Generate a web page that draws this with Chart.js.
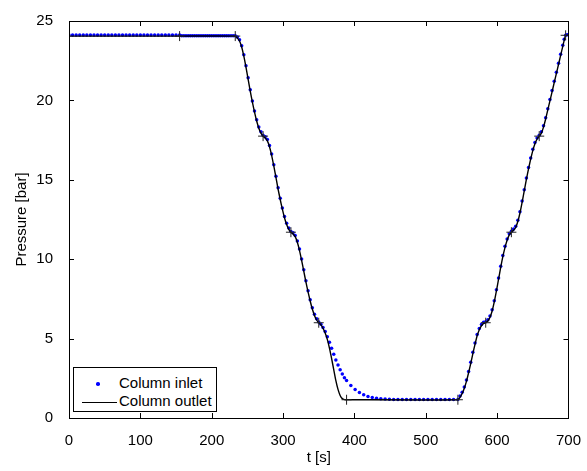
<!DOCTYPE html>
<html>
<head>
<meta charset="utf-8">
<script src="https://cdn.jsdelivr.net/npm/chart.js@4.4.1/dist/chart.umd.min.js"></script>
<style>
  html, body { margin: 0; padding: 0; background: #fff; }
  #wrap { position: relative; width: 587px; height: 471px; }
  #legend {
    position: absolute; left: 73px; top: 367px; width: 144px; height: 45px;
    box-sizing: border-box; border: 1px solid #000; background: #fff;
    font: 15px 'Liberation Sans', Arial, sans-serif; color: #000;
  }
  #legend .txt { position: absolute; left: 45px; line-height: 18px; white-space: nowrap; }
  #legend .dot { position: absolute; width: 3.5px; height: 3.5px; border-radius: 50%; background: #0000ff; }
  #legend .ln  { position: absolute; height: 1.4px; background: #000; }
</style>
</head>
<body>
<div id="wrap">
  <canvas id="pressureChart" width="587" height="471"></canvas>
  <div id="legend">
    <span class="dot" style="left:22px; top:14px;"></span>
    <span class="txt" style="top:6px;">Column inlet</span>
    <span class="ln" style="left:8px; top:34px; width:35px;"></span>
    <span class="txt" style="top:24px;">Column outlet</span>
  </div>
</div>
<script>
// ── Data ─────────────────────────────────────────────────────────────
const xTicks = [0, 100, 200, 300, 400, 500, 600, 700];
const yTicks = [0, 5, 10, 15, 20, 25];

// Column outlet (black line), t in s, p in bar
const tOutlet = [
  0, 155, 233, 236, 239, 242, 245, 248, 251, 254, 257, 260, 263, 266, 269, 272,
  275, 278, 281, 284, 287, 290, 293, 296, 299, 302, 305, 308, 311,
  314, 317, 320, 323, 326, 329, 332, 335, 338, 341, 344, 347, 350,
  353, 356, 359, 362, 365, 368, 371, 374, 377, 380, 383, 386, 389,
  545, 548, 551, 554, 557, 560, 563, 566, 569, 572, 575, 578, 581, 584,
  587, 590, 593, 596, 599, 602, 605, 608, 611, 614, 617, 620,
  623, 626, 629, 632, 635, 638, 641, 644, 647, 650, 653, 656, 659,
  662, 665, 668, 671, 674, 677, 680, 683, 686, 689, 692, 694, 696, 700
];
const pOutlet = [
  24.05, 24.05, 24.05, 23.92, 23.74, 23.36, 22.79, 22.10, 21.34, 20.59, 19.89, 19.26, 18.70, 18.25, 17.94, 17.75,
  17.63, 17.45, 17.08, 16.54, 15.87, 15.15, 14.42, 13.76, 13.15, 12.61, 12.18, 11.88, 11.70,
  11.59, 11.42, 11.07, 10.56, 9.93, 9.25, 8.57, 7.94, 7.37, 6.86, 6.46, 6.17, 6.00,
  5.88, 5.65, 5.35, 4.95, 4.40, 3.75, 3.05, 2.35, 1.80, 1.42, 1.22, 1.16, 1.15,
  1.15, 1.30, 1.54, 1.88, 2.31, 2.85, 3.43, 4.06, 4.64, 5.18, 5.56, 5.81, 5.95, 6.00,
  6.11, 6.34, 6.74, 7.31, 8.00, 8.74, 9.48, 10.16, 10.73, 11.19, 11.53, 11.70,
  11.82, 12.00, 12.37, 12.91, 13.58, 14.30, 15.03, 15.69, 16.30, 16.84, 17.27, 17.57, 17.75,
  17.94, 18.32, 18.83, 19.40, 19.97, 20.54, 21.12, 21.69, 22.26, 22.83, 23.40, 23.78, 24.08, 24.12
];

// '+' markers on the outlet curve
const tMark = [155, 233, 272, 311, 350, 389, 545, 584, 620, 659, 696];
const pMark = [24.05, 24.05, 17.75, 11.70, 6.00, 1.15, 1.15, 6.00, 11.70, 17.75, 24.10];

// Column inlet (blue dots)
const tInlet = [
  0, 5, 10, 15, 20, 25, 30, 35, 40, 45, 50, 55, 60, 65, 70, 75, 80, 85, 90, 95,
  100, 105, 110, 115, 120, 125, 130, 135, 140, 145, 150, 155,
  158, 161, 164, 167, 170, 173, 176, 179, 182, 185, 188, 191, 194, 197, 200, 203,
  206, 209, 212, 215, 218, 221, 224, 227, 230, 233,
  236, 239, 242, 245, 248, 251, 254, 257, 260, 263, 266, 269, 272,
  275, 278, 281, 284, 287, 290, 293, 296, 299, 302, 305, 308, 311,
  314, 317, 320, 323, 326, 329, 332, 335, 338, 341, 344, 347, 350,
  353, 356, 359, 362, 365, 368, 371, 374, 377, 380, 383, 386, 389,
  395, 401, 407, 413, 419, 425, 431, 437, 443, 449, 455, 461,
  467, 473, 479, 485, 491, 497, 503, 509, 515, 521, 527, 533, 539, 545,
  548, 551, 554, 557, 560, 563, 566, 569, 572, 575, 578, 581, 584,
  587, 590, 593, 596, 599, 602, 605, 608, 611, 614, 617, 620,
  623, 626, 629, 632, 635, 638, 641, 644, 647, 650, 653, 656, 659,
  662, 665, 668, 671, 674, 677, 680, 683, 686, 689, 692, 694, 696, 698, 700
];
const pInlet = [
  24.12, 24.12, 24.12, 24.12, 24.12, 24.12, 24.12, 24.12, 24.12, 24.12, 24.12, 24.12, 24.12, 24.12, 24.12, 24.12, 24.12, 24.12, 24.12, 24.12,
  24.12, 24.12, 24.12, 24.12, 24.12, 24.12, 24.12, 24.12, 24.12, 24.12, 24.12, 24.12,
  24.07, 24.07, 24.07, 24.07, 24.07, 24.07, 24.07, 24.07, 24.07, 24.07, 24.07, 24.07, 24.07, 24.07, 24.07, 24.07,
  24.07, 24.07, 24.07, 24.07, 24.07, 24.07, 24.07, 24.07, 24.07, 24.07,
  24.00, 23.82, 23.44, 22.87, 22.18, 21.42, 20.67, 19.97, 19.34, 18.78, 18.33, 18.02, 17.80,
  17.71, 17.53, 17.16, 16.62, 15.95, 15.23, 14.50, 13.84, 13.23, 12.69, 12.26, 11.96, 11.75,
  11.67, 11.50, 11.15, 10.64, 10.01, 9.33, 8.65, 8.02, 7.45, 6.94, 6.54, 6.25, 6.05,
  5.90, 5.70, 5.45, 5.12, 4.77, 4.40, 4.02, 3.66, 3.34, 3.04, 2.77, 2.54, 2.36,
  2.04, 1.80, 1.61, 1.46, 1.36, 1.29, 1.24, 1.21, 1.19, 1.18, 1.17, 1.16,
  1.16, 1.16, 1.16, 1.16, 1.16, 1.16, 1.16, 1.16, 1.16, 1.16, 1.16, 1.16, 1.16, 1.16,
  1.38, 1.62, 1.96, 2.39, 2.93, 3.51, 4.14, 4.72, 5.26, 5.64, 5.89, 6.03, 6.06,
  6.19, 6.42, 6.82, 7.39, 8.08, 8.82, 9.56, 10.24, 10.81, 11.27, 11.60, 11.76,
  11.90, 12.08, 12.45, 12.99, 13.66, 14.38, 15.11, 15.77, 16.38, 16.92, 17.35, 17.64, 17.81,
  18.02, 18.40, 18.91, 19.48, 20.05, 20.62, 21.20, 21.77, 22.34, 22.91, 23.48, 23.85, 24.10, 24.14, 24.14
];

const FONT = "'Liberation Sans', Arial, Helvetica, sans-serif";
const TICK = 5;

const toPoints = (ts, ps) => ts.map((t, i) => ({ x: t, y: ps[i] }));

// ── MATLAB-style box with inward ticks on all four sides ─────────────
const matlabBox = {
  id: 'matlabBox',
  afterDatasetsDraw(chart) {
    const { ctx, chartArea: a, scales: { x, y } } = chart;
    ctx.save();
    ctx.strokeStyle = '#000';
    ctx.lineWidth = 1;
    ctx.beginPath();
    xTicks.forEach(v => {
      const px = Math.round(x.getPixelForValue(v)) + 0.5;
      ctx.moveTo(px, a.bottom); ctx.lineTo(px, a.bottom - TICK);
      ctx.moveTo(px, a.top);    ctx.lineTo(px, a.top + TICK);
    });
    yTicks.forEach(v => {
      const py = Math.round(y.getPixelForValue(v)) + 0.5;
      ctx.moveTo(a.left, py);  ctx.lineTo(a.left + TICK, py);
      ctx.moveTo(a.right, py); ctx.lineTo(a.right - TICK, py);
    });
    ctx.stroke();
    ctx.strokeRect(Math.round(a.left) + 0.5, Math.round(a.top) + 0.5,
                   Math.round(a.width), Math.round(a.height));
    ctx.restore();
  }
};

new Chart(document.getElementById('pressureChart'), {
  type: 'line',
  data: {
    datasets: [
      {
        label: 'Column inlet',
        data: toPoints(tInlet, pInlet),
        showLine: false,
        pointRadius: 1.75,
        pointBorderWidth: 0,
        pointBackgroundColor: '#0000ff',
        pointBorderColor: '#0000ff',
        order: 2,
      },
      {
        label: 'Column outlet',
        data: toPoints(tOutlet, pOutlet),
        borderColor: '#000',
        borderWidth: 1.4,
        pointRadius: 0,
        tension: 0.2,
        fill: false,
        order: 1,
      },
      {
        label: 'markers',
        data: toPoints(tMark, pMark),
        showLine: false,
        pointStyle: 'cross',
        pointRadius: 5,
        pointBorderWidth: 1,
        pointBorderColor: '#222',
        order: 0,
      },
    ],
  },
  options: {
    responsive: false,
    animation: false,
    events: [],
    layout: { padding: { top: 21, right: 15, left: 0, bottom: 0 } },
    plugins: { legend: { display: false }, tooltip: { enabled: false } },
    scales: {
      x: {
        type: 'linear',
        min: 0, max: 700,
        afterFit(scale) { scale.height = 53; },
        afterBuildTicks(scale) { scale.ticks = xTicks.map(v => ({ value: v })); },
        grid: { display: false },
        border: { display: false },
        ticks: { color: '#000', padding: 6, font: { family: FONT, size: 15 } },
        title: { display: true, text: 't [s]', color: '#000', padding: { bottom: 4 },
                 font: { family: FONT, size: 15 } },
      },
      y: {
        type: 'linear',
        min: 0, max: 25,
        afterFit(scale) { scale.width = 69; },
        afterBuildTicks(scale) { scale.ticks = yTicks.map(v => ({ value: v })); },
        grid: { display: false },
        border: { display: false },
        ticks: { color: '#000', padding: 8, font: { family: FONT, size: 15 } },
        title: { display: true, text: 'Pressure [bar]', color: '#000', padding: { top: 13 },
                 font: { family: FONT, size: 15 } },
      },
    },
  },
  plugins: [matlabBox],
});
</script>
</body>
</html>
